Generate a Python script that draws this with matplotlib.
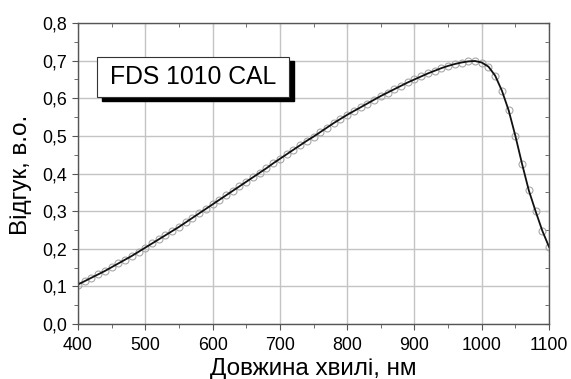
import matplotlib
matplotlib.use('Agg')
import matplotlib.pyplot as plt
from matplotlib.ticker import MultipleLocator, FuncFormatter
from matplotlib.patches import Rectangle

plt.rcParams['font.family'] = ['Liberation Sans', 'DejaVu Sans']

# wavelength, nm (measured points every 10 nm)
wavelength = list(range(400, 1101, 10))
# responsivity, a.u.
response = [
    0.105, 0.114, 0.123, 0.132, 0.141, 0.151, 0.161, 0.171, 0.181, 0.192,
    0.203, 0.214, 0.225, 0.236, 0.247, 0.258, 0.270, 0.282, 0.294, 0.306,
    0.318, 0.330, 0.342, 0.354, 0.366, 0.378, 0.390, 0.402, 0.414, 0.427,
    0.439, 0.451, 0.463, 0.475, 0.487, 0.498, 0.510, 0.522, 0.534, 0.545,
    0.556, 0.566, 0.576, 0.586, 0.596, 0.606, 0.615, 0.624, 0.633, 0.642,
    0.650, 0.658, 0.666, 0.673, 0.680, 0.686, 0.691, 0.695, 0.698, 0.699,
    0.695, 0.684, 0.660, 0.620, 0.568, 0.500, 0.425, 0.355, 0.300, 0.248,
    0.205,
]
label_text = 'FDS 1010 CAL'

fig = plt.figure(figsize=(5.71, 3.79), dpi=100)
ax = fig.add_axes([0.1366, 0.1451, 0.8249, 0.7942])

ax.plot(wavelength, response, linestyle='none', marker='o', markersize=5,
        markerfacecolor='none', markeredgecolor='#a8a8a8', markeredgewidth=0.8)
ax.plot(wavelength, response, color='#111111', lw=1.3)

ax.set_xlim(400, 1100)
ax.set_ylim(0.0, 0.8)
ax.xaxis.set_major_locator(MultipleLocator(100))
ax.xaxis.set_minor_locator(MultipleLocator(50))
ax.yaxis.set_major_locator(MultipleLocator(0.1))
ax.yaxis.set_minor_locator(MultipleLocator(0.05))
ax.yaxis.set_major_formatter(FuncFormatter(lambda v, p: f'{v:.1f}'.replace('.', ',')))

ax.grid(True, which='major', color='#c4c4c4', lw=1.0)
ax.set_axisbelow(True)
for s in ax.spines.values():
    s.set_color('#555555')
    s.set_linewidth(1.0)

ax.tick_params(which='both', direction='out', color='#555555', labelsize=12.8,
               top=False, right=False)
ax.tick_params(which='major', length=4)
ax.tick_params(which='minor', length=3)
ax.tick_params(axis='x', pad=5)
ax.tick_params(axis='y', pad=4)
ax2x = ax.secondary_xaxis('top')
ax2x.xaxis.set_minor_locator(MultipleLocator(50))
ax2x.xaxis.set_major_locator(MultipleLocator(100))
ax2x.tick_params(which='both', direction='in', length=3, color='#555555', labeltop=False)
ax2x.spines['top'].set_visible(False)
ax2y = ax.secondary_yaxis('right')
ax2y.yaxis.set_minor_locator(MultipleLocator(0.05))
ax2y.yaxis.set_major_locator(MultipleLocator(0.1))
ax2y.tick_params(which='both', direction='in', length=3, color='#555555', labelright=False)
ax2y.spines['right'].set_visible(False)

ax.set_xlabel('Довжина хвилі, нм', fontsize=17.5, labelpad=3.5)
ax.set_ylabel('Відгук, в.о.', fontsize=17.5)
ax.yaxis.set_label_coords(-0.098, 0.495)

# label box with drop shadow
bx, by, bw, bh = 97 / 571, 1 - 97 / 379, 192 / 571, 40 / 379
fig.patches.append(Rectangle((bx + 5 / 571, by - 4 / 379), bw, bh, transform=fig.transFigure,
                             facecolor='black', edgecolor='black', zorder=5))
fig.patches.append(Rectangle((bx, by), bw, bh, transform=fig.transFigure,
                             facecolor='white', edgecolor='#333333', lw=0.8, zorder=6))
fig.text(bx + bw / 2, by + bh / 2, label_text, ha='center', va='center',
         fontsize=17.8, zorder=7)

fig.savefig('out.png', dpi=100)
